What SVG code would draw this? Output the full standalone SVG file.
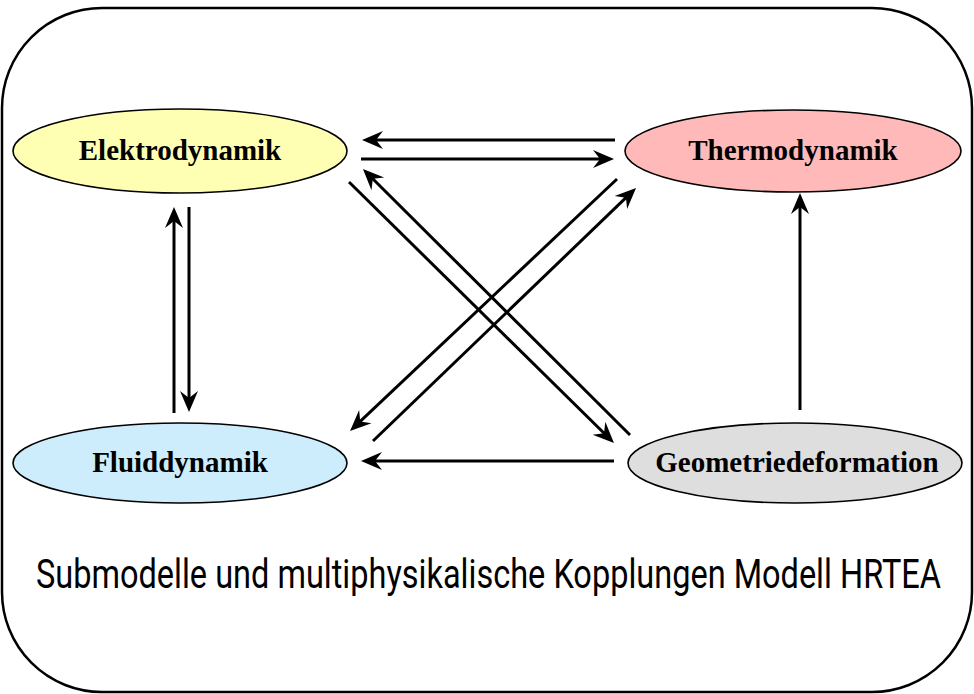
<svg xmlns="http://www.w3.org/2000/svg" width="974" height="694" viewBox="0 0 974 694">
<style>
.frame{fill:#fff;stroke:#000;stroke-width:2.5}
.node{stroke:#000;stroke-width:1.6}
.lbl{font-family:"Liberation Serif","Times New Roman",serif;font-weight:bold;font-size:29px;text-anchor:middle;fill:#000}
.cap{font-family:Roboto,"Liberation Sans",sans-serif;font-size:40px;fill:#000}
.conn line{stroke:#000;stroke-width:3;marker-end:url(#ah)}
</style>
<defs>
<marker id="ah" markerUnits="userSpaceOnUse" markerWidth="30" markerHeight="30" viewBox="-15 -15 30 30" refX="0" refY="0" orient="auto" overflow="visible">
<path d="M6,0 L-15,-9 L-8,0 L-15,9 Z" fill="#000"/>
</marker>
</defs>
<rect class="frame" x="2" y="8" width="970" height="684" rx="100" ry="100"/>
<g id="elektrodynamik">
<ellipse class="node" cx="180" cy="151" rx="167" ry="42" fill="#ffffb4"/>
<text class="lbl" x="180" y="160">Elektrodynamik</text>
</g>
<g id="thermodynamik">
<ellipse class="node" cx="793" cy="151" rx="168" ry="41" fill="#ffb9b9"/>
<text class="lbl" x="793" y="160">Thermodynamik</text>
</g>
<g id="fluiddynamik">
<ellipse class="node" cx="180" cy="463" rx="167" ry="40" fill="#cdedfd"/>
<text class="lbl" x="180" y="472">Fluiddynamik</text>
</g>
<g id="geometriedeformation">
<ellipse class="node" cx="795" cy="463" rx="167" ry="40" fill="#dedede"/>
<text class="lbl" x="797" y="472">Geometriedeformation</text>
</g>
<g id="connectors" class="conn">
<line x1="615" y1="140" x2="368" y2="140"/>
<line x1="361" y1="159" x2="608" y2="159"/>
<line x1="174" y1="413" x2="174" y2="213"/>
<line x1="189" y1="207" x2="189" y2="406"/>
<line x1="800" y1="410" x2="800" y2="199"/>
<line x1="614" y1="461" x2="367" y2="461"/>
<line x1="349" y1="182" x2="609.7" y2="438.8"/>
<line x1="630" y1="435" x2="367.2" y2="173.2"/>
<line x1="617" y1="179" x2="354.4" y2="426.9"/>
<line x1="373" y1="441" x2="631.7" y2="192.2"/>
</g>
<text class="cap" x="36" y="588" textLength="905" lengthAdjust="spacingAndGlyphs">Submodelle und multiphysikalische Kopplungen Modell HRTEA</text>
</svg>
